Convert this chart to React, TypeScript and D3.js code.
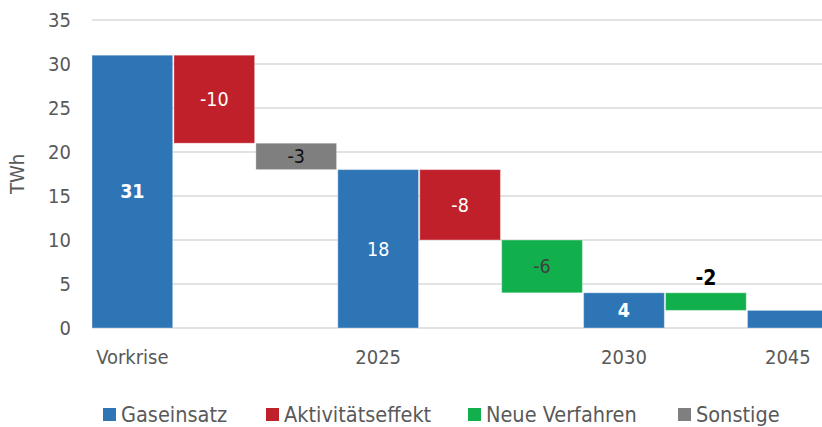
import React from "react";
import * as d3 from "d3";

const categories = ["Vorkrise", "a1", "s1", "2025", "a2", "n1", "2030", "n2", "2045"];
const axisLabels = ["Vorkrise", "", "", "2025", "", "", "2030", "", "2045"];
const seriesOf = ["Gaseinsatz", "Aktivitätseffekt", "Sonstige", "Gaseinsatz", "Aktivitätseffekt", "Neue Verfahren", "Gaseinsatz", "Neue Verfahren", "Gaseinsatz"];
const lows = [0, 21, 18, 0, 10, 4, 0, 2, 0];
const highs = [31, 31, 21, 18, 18, 10, 4, 4, 2];
const valueLabels = ["31", "-10", "-3", "18", "-8", "-6", "4", "-2", ""];
const yTicks = [0, 5, 10, 15, 20, 25, 30, 35];
const legendItems = ["Gaseinsatz", "Aktivitätseffekt", "Neue Verfahren", "Sonstige"];
const colors: Record<string, string> = {
  Gaseinsatz: "#2E75B6",
  Aktivitätseffekt: "#C0202A",
  "Neue Verfahren": "#11B04C",
  Sonstige: "#7F7F7F",
};
const labelStyles = [
  { fill: "#fff", weight: 700, pos: "mid" },
  { fill: "#fff", weight: 400, pos: "mid" },
  { fill: "#111", weight: 400, pos: "mid" },
  { fill: "#fff", weight: 400, pos: "mid" },
  { fill: "#fff", weight: 400, pos: "mid" },
  { fill: "#404040", weight: 400, pos: "mid" },
  { fill: "#fff", weight: 700, pos: "mid" },
  { fill: "#000", weight: 700, pos: "above" },
  { fill: "#fff", weight: 400, pos: "mid" },
];
const legendX = [103, 266, 468, 678];

const FONT = "'DejaVu Sans Condensed', 'Open Sans', sans-serif";

export default function App() {
  const W = 822, H = 427;
  const x = d3.scaleBand<string>().domain(categories).range([92, 92 + 9 * 81.8]).paddingInner(0.015).paddingOuter(0);
  const y = d3.scaleLinear().domain([0, 35]).range([328, 20]);
  return (
    <div style={{ position: "absolute", left: 0, top: 0 }}>
      <svg width={W} height={H} style={{ display: "block", fontFamily: FONT }}>
        <rect width={W} height={H} fill="#fff" />
        {yTicks.map((t) => (
          <g key={t}>
            <line x1={92} x2={W} y1={y(t)} y2={y(t)} stroke="#d9d9d9" strokeWidth={1.5} />
            <text x={71} y={y(t)} dy="0.35em" textAnchor="end" fontSize={20} fill="#595959">{t}</text>
          </g>
        ))}
        <text transform={`translate(24,${y(17.5)}) rotate(-90)`} textAnchor="middle" fontSize={20} fill="#595959">TWh</text>
        {categories.map((c, i) => (
          <rect key={c} x={x(c)} width={x.bandwidth()} y={y(highs[i])} height={y(lows[i]) - y(highs[i])}
            fill={colors[seriesOf[i]]} stroke="#ffffff" strokeOpacity={0.35} strokeWidth={1} />
        ))}
        {categories.map((c, i) => {
          const st = labelStyles[i];
          const cx = (x(c) as number) + x.bandwidth() / 2;
          if (!valueLabels[i]) return null;
          if (st.pos === "above") {
            return <text key={c} x={cx} y={y(highs[i]) - 8} textAnchor="middle" fontSize={21} fontWeight={st.weight} fill={st.fill}>{valueLabels[i]}</text>;
          }
          return <text key={c} x={cx} y={(y(highs[i]) + y(lows[i])) / 2} dy="0.35em" textAnchor="middle" fontSize={19.5} fontWeight={st.weight} fill={st.fill}>{valueLabels[i]}</text>;
        })}
        {categories.map((c, i) => axisLabels[i] ? (
          <text key={c} x={(x(c) as number) + x.bandwidth() / 2} y={364} textAnchor="middle" fontSize={20} fill="#595959">{axisLabels[i]}</text>
        ) : null)}
        {legendItems.map((s, i) => (
          <g key={s}>
            <rect x={legendX[i]} y={408} width={13} height={13} fill={colors[s]} />
            <text x={legendX[i] + 18} y={422} fontSize={21.5} fill="#595959">{s}</text>
          </g>
        ))}
      </svg>
    </div>
  );
}
